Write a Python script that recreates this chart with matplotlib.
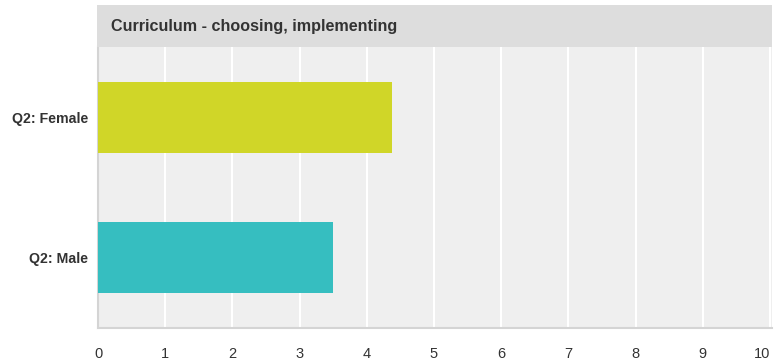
import matplotlib.pyplot as plt
from matplotlib.patches import Rectangle

plt.rcParams['font.family'] = ['Liberation Sans', 'DejaVu Sans']

title = "Curriculum - choosing, implementing"
categories = ["Q2: Male", "Q2: Female"]
values = [3.50, 4.38]
colors = ["#36bec0", "#d0d628"]
xticks = list(range(0, 11))

W, H = 775, 364
fig = plt.figure(figsize=(W / 100, H / 100), dpi=100)

# plot area in pixel coordinates
left, right, top, bottom = 98, 772, 47, 328
ax = fig.add_axes([left / W, (H - bottom) / H, (right - left) / W, (bottom - top) / H])
ax.set_facecolor("#efefef")

ax.barh(range(len(categories)), values, height=0.507, color=colors, zorder=3)
ax.set_xlim(0, 10.03)
ax.set_ylim(-0.504, 1.504)

ax.set_xticks(xticks)
ax.set_xticklabels([str(t) for t in xticks])
ax.xaxis.grid(True, color="white", linewidth=1.5, zorder=1)
ax.set_axisbelow(True)
ax.tick_params(axis="x", length=0, pad=14, labelsize=10.5, labelcolor="#333333")
# keep the last label inside the figure
last = ax.get_xticklabels()[-1]
last.set_horizontalalignment("right")
last.set_x(10.0)
ax.set_yticks(range(len(categories)))
ax.set_yticklabels(categories, fontweight="bold")
ax.tick_params(axis="y", length=0, pad=7, labelsize=10.2, labelcolor="#333333")

for side in ("top", "right"):
    ax.spines[side].set_visible(False)
for side in ("left", "bottom"):
    ax.spines[side].set_color("#d4d4d4")
    ax.spines[side].set_linewidth(1.5)

# title bar across the top
tb_top, tb_left = 5, 97
fig.patches.append(Rectangle((tb_left / W, (H - top) / H), (right - tb_left) / W,
                             (top - tb_top) / H, transform=fig.transFigure,
                             facecolor="#dddddd", edgecolor="none", zorder=0))
fig.text(111 / W, (H - (top + tb_top) / 2) / H, title, fontsize=11.6,
         fontweight="bold", color="#333333", va="center", ha="left")

fig.savefig("out.png", dpi=100)
